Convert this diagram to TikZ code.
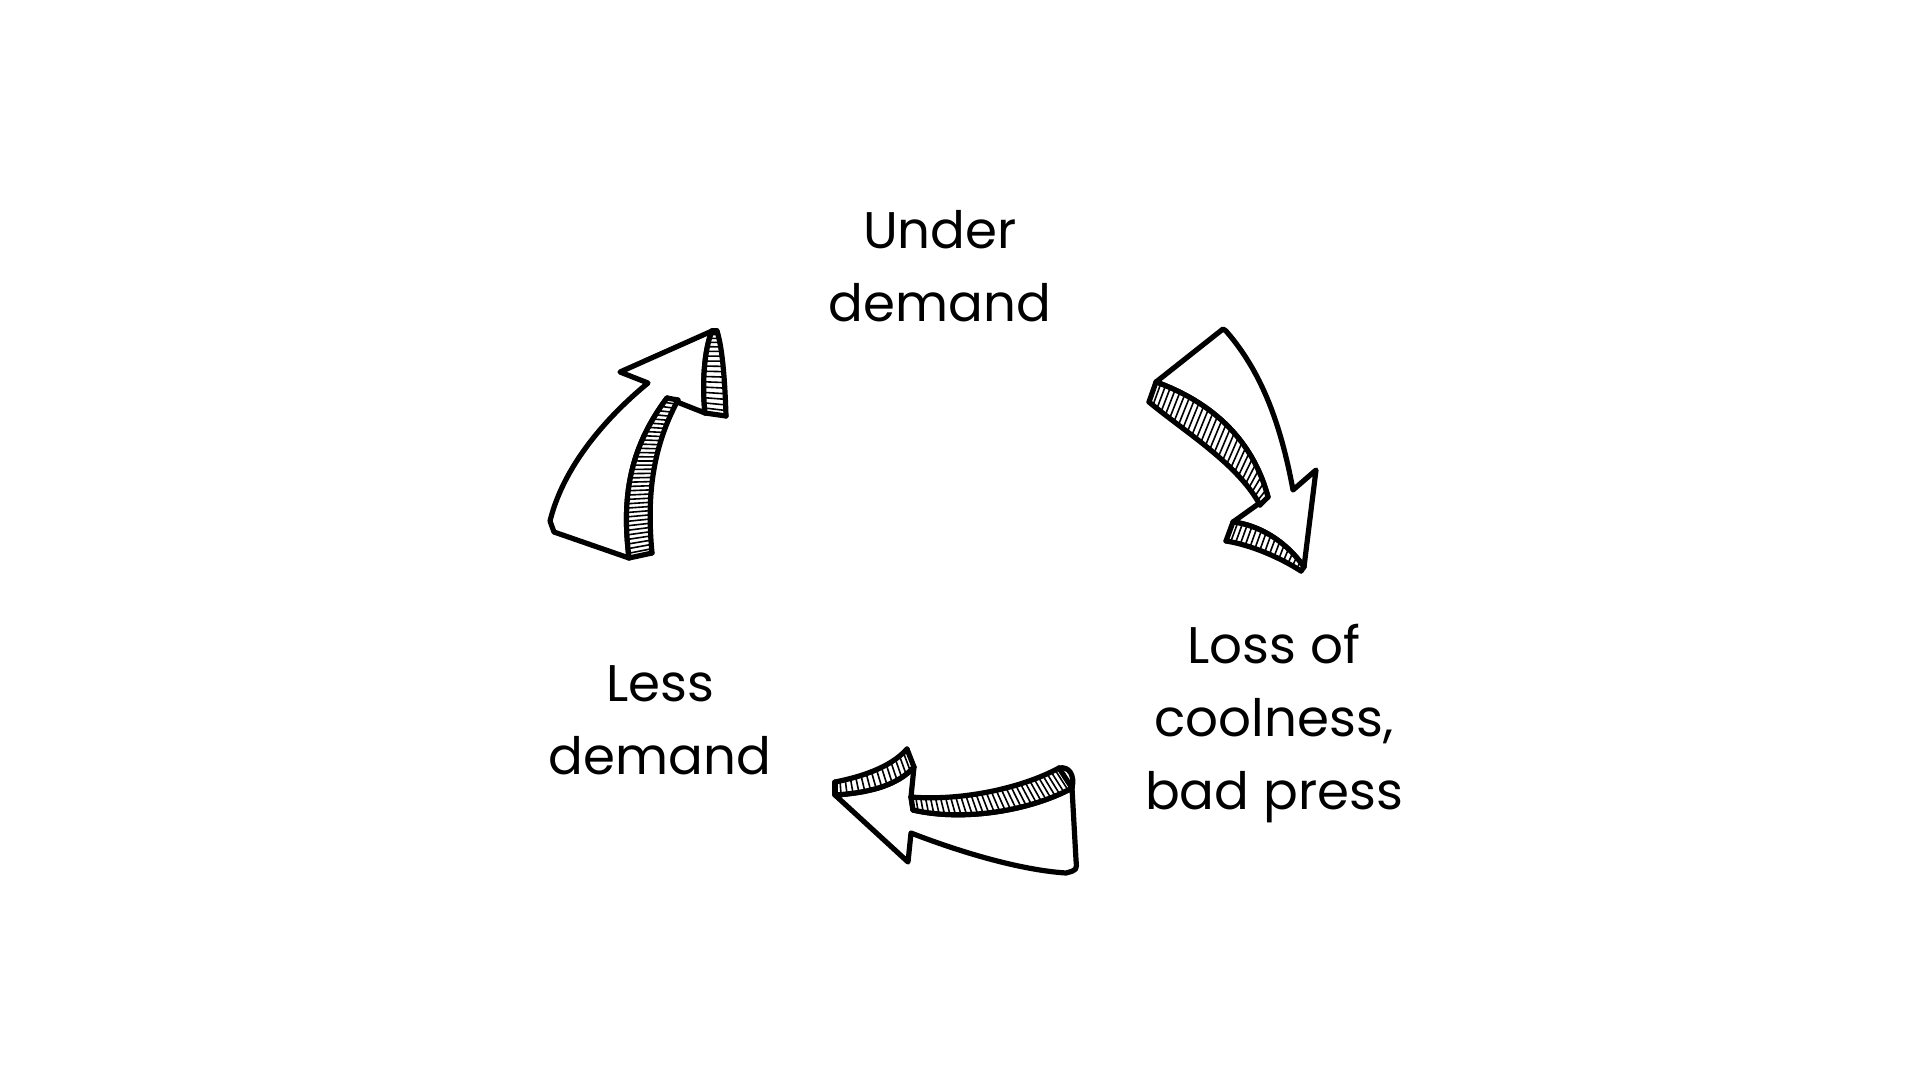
\documentclass[tikz,border=0pt]{standalone}
\usepackage{fontspec}
\setmainfont{Poppins}
\usetikzlibrary{calc}
\tikzset{
  outl/.style={line width=5.2pt, line join=round, line cap=round},
  hatch/.style={line width=1.6pt},
  lbl/.style={font=\fontsize{51.5}{73}\selectfont, align=center, inner sep=0pt, anchor=north},
}
% band between two cubic edges A (#1..#4) and B (#5..#8), #9 hatch lines
\newcommand\band[9]{%
  \fill[white] #1 .. controls #2 and #3 .. #4 -- #8 .. controls #7 and #6 .. #5 -- cycle;
  \path #1 .. controls #2 and #3 .. #4 foreach \i [evaluate=\i as \q using \i/(#9+1)] in {1,...,#9} {coordinate[pos=\q] (hA\i)};
  \path #5 .. controls #6 and #7 .. #8 foreach \i [evaluate=\i as \q using \i/(#9+1)] in {1,...,#9} {coordinate[pos=\q] (hB\i)};
  \foreach \i in {1,...,#9} {\draw[hatch] (hA\i) -- (hB\i);}
  \draw[outl] #1 .. controls #2 and #3 .. #4;
  \draw[outl] #5 .. controls #6 and #7 .. #8;
  \draw[outl] #1 -- #5;
  \draw[outl] #4 -- #8;
}
\begin{document}
\begin{tikzpicture}[x=1pt,y=-1pt]
\fill[white] (0,0) rectangle (1920,1080);
\useasboundingbox (0,0) rectangle (1920,1080);

% labels
\node[lbl] (under) at (940,210) {Under\\demand};
\node[lbl] (loss) at (1274,624) {Loss of\\coolness,\\bad press};
\node[lbl] (less) at (660,665) {Less\\demand};

% arrow 1 (up-right, left side)
\draw[outl, fill=white] (712,331) -- (620,372) -- (648,383)
  .. controls (615,410) and (565,460) .. (550,521) -- (554,532) -- (629,558)
  .. controls (622,500) and (628,450) .. (667,398) -- (705,413)
  .. controls (702,385) and (704,350) .. (712,331) -- cycle;
\band{(629,558)}{(622,500)}{(628,450)}{(667,398)}{(652,553)}{(647,500)}{(651,450)}{(678,400)}{36}
\band{(705,413)}{(702,385)}{(704,350)}{(712,331)}{(726,416)}{(725,385)}{(723,350)}{(717,331)}{16}

% arrow 2 (down, right side)
\draw[outl, fill=white] (1223,329) -- (1156,382)
  .. controls (1200,398) and (1250,430) .. (1268,497) -- (1233,522)
  .. controls (1258,525) and (1285,540) .. (1304,567) -- (1316,470) -- (1293,490)
  .. controls (1280,420) and (1260,370) .. (1226,331) -- cycle;
\band{(1156,382)}{(1200,398)}{(1250,430)}{(1268,497)}{(1149,402)}{(1185,432)}{(1238,464)}{(1260,505)}{27}
\band{(1233,522)}{(1258,525)}{(1285,540)}{(1304,567)}{(1226,541)}{(1251,545)}{(1279,557)}{(1301,571)}{15}

% arrow 3 (left, bottom)
\draw[outl, fill=white] (835,795) .. controls (865,793) and (896,787) .. (914,767) -- (911,797) -- (913,810)
  .. controls (965,822) and (1032,810) .. (1072,788) -- (1076,860)
  .. controls (1077,870) .. (1066,873)
  .. controls (1020,870) and (960,852) .. (911,833) -- (908,862) -- cycle;
\band{(835,782)}{(860,777)}{(890,768)}{(907,749)}{(835,795)}{(865,793)}{(896,787)}{(914,767)}{14}
\band{(911,797)}{(960,801)}{(1020,789)}{(1059,768)}{(913,810)}{(965,822)}{(1032,810)}{(1072,788)}{30}
\draw[outl] (1059,768) .. controls (1069,766) and (1075,775) .. (1072,788);
\end{tikzpicture}
\end{document}
